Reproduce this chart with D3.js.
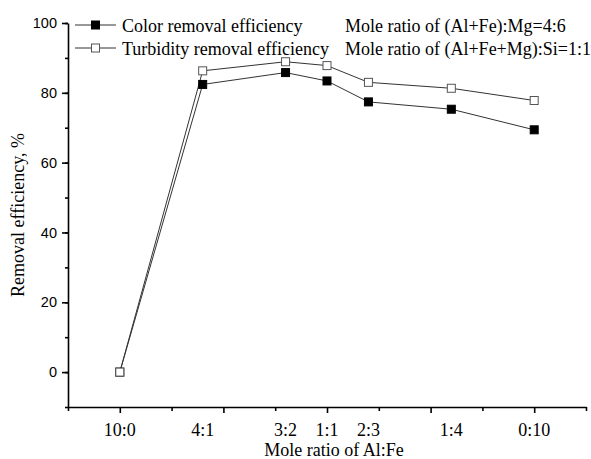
<!DOCTYPE html>
<html>
<head>
<meta charset="utf-8">
<script src="https://cdn.jsdelivr.net/npm/d3@7"></script>
<style>
  body { margin: 0; background: #fff; }
  svg { display: block; }
</style>
</head>
<body>
<div id="chart"></div>
<script>
// data
const ratios = ["10:0", "4:1", "3:2", "1:1", "2:3", "1:4", "0:10"];
const feFraction = [0, 0.2, 0.4, 0.5, 0.6, 0.8, 1.0];
const colorRemoval = [0, 82.4, 85.8, 83.4, 77.4, 75.3, 69.4];
const turbidityRemoval = [0, 86.3, 88.9, 87.8, 83.0, 81.3, 77.8];
const notes = ["Mole ratio of (Al+Fe):Mg=4:6", "Mole ratio of (Al+Fe+Mg):Si=1:1"];

const width = 591, height = 459;
const margin = {top: 23, right: 5, bottom: 52, left: 68};

const svg = d3.select("#chart")
  .append("svg")
    .attr("width", width)
    .attr("height", height);

const x = d3.scaleLinear()
  .domain([-0.125, 1.125])
  .range([margin.left, width - margin.right]);

const y = d3.scaleLinear()
  .domain([-10, 100])
  .range([height - margin.bottom, margin.top]);

const serif = "'Liberation Serif', 'Times New Roman', serif";
const sans = "'Liberation Sans', Arial, sans-serif";

// y axis: majors every 20, minors every 10
const yAxis = svg.append("g")
  .attr("transform", `translate(${margin.left},0)`);
yAxis.append("g")
  .call(d3.axisLeft(y).tickValues(d3.range(-10, 101, 10)).tickSize(3).tickFormat(""))
  .call(g => g.select(".domain").remove());
yAxis.append("g")
  .call(d3.axisLeft(y).tickValues(d3.range(0, 101, 20)).tickSize(6).tickSizeOuter(0).tickPadding(5))
  .call(g => g.selectAll("text").style("font-family", sans).style("font-size", "14.5px").attr("fill", "#000"));
yAxis.selectAll("path, line").attr("stroke", "#000").attr("stroke-width", 1.6);

// x axis: majors every 0.25, minors in between
const xAxis = svg.append("g")
  .attr("transform", `translate(0,${height - margin.bottom})`);
xAxis.append("g")
  .call(d3.axisBottom(x).tickValues(d3.range(-0.125, 1.13, 0.25)).tickSize(4).tickFormat(""))
  .call(g => g.select(".domain").remove());
xAxis.append("g")
  .call(d3.axisBottom(x).tickValues(d3.range(0, 1.01, 0.25)).tickSize(6).tickSizeOuter(0).tickFormat(""));
xAxis.selectAll("path, line").attr("stroke", "#000").attr("stroke-width", 1.6);

// category labels under the points
xAxis.selectAll("text.ratio")
  .data(ratios)
  .join("text")
    .attr("class", "ratio")
    .attr("x", (d, i) => x(feFraction[i]))
    .attr("y", 29)
    .attr("text-anchor", "middle")
    .style("font-family", serif)
    .style("font-size", "18px")
    .text(d => d);

// axis titles
svg.append("text")
  .attr("x", (margin.left + width - margin.right) / 2 + 7)
  .attr("y", 456)
  .attr("text-anchor", "middle")
  .style("font-family", serif)
  .style("font-size", "18px")
  .text("Mole ratio of Al:Fe");

svg.append("text")
  .attr("transform", `translate(24,${(margin.top + height - margin.bottom) / 2}) rotate(-90)`)
  .attr("text-anchor", "middle")
  .style("font-family", serif)
  .style("font-size", "18px")
  .text("Removal efficiency, %");

// series
const series = [
  {name: "Color removal efficiency", values: colorRemoval, fill: "#000"},
  {name: "Turbidity removal efficiency", values: turbidityRemoval, fill: "#fff"}
];

const line = d3.line()
  .x(d => x(d[0]))
  .y(d => y(d[1]));

series.forEach(s => {
  const pts = feFraction.map((f, i) => [f, s.values[i]]);
  svg.append("path")
    .datum(pts)
    .attr("d", line)
    .attr("fill", "none")
    .attr("stroke", "#333")
    .attr("stroke-width", 1);
});

const ms = 8;
series.forEach(s => {
  svg.append("g").selectAll("rect")
    .data(feFraction.map((f, i) => [f, s.values[i]]))
    .join("rect")
      .attr("x", d => x(d[0]) - ms / 2)
      .attr("y", d => y(d[1]) - ms / 2)
      .attr("width", ms)
      .attr("height", ms)
      .attr("fill", s.fill)
      .attr("stroke", s.fill === "#000" ? "#000" : "#555")
      .attr("stroke-width", 1);
});

// legend
const legend = svg.append("g");
series.forEach((s, i) => {
  const ly = 25 + i * 23;
  legend.append("line")
    .attr("x1", 75).attr("x2", 116)
    .attr("y1", ly).attr("y2", ly)
    .attr("stroke", "#333");
  legend.append("rect")
    .attr("x", 95.5 - ms / 2).attr("y", ly - ms / 2)
    .attr("width", ms).attr("height", ms)
    .attr("fill", s.fill)
    .attr("stroke", s.fill === "#000" ? "#000" : "#555");
  legend.append("text")
    .attr("x", 122).attr("y", ly + 7)
    .style("font-family", serif)
    .style("font-size", "18px")
    .text(s.name);
});

// conditions
svg.selectAll("text.note")
  .data(notes)
  .join("text")
    .attr("class", "note")
    .attr("x", 345)
    .attr("y", (d, i) => 32 + i * 23)
    .style("font-family", serif)
    .style("font-size", "18px")
    .text(d => d);
</script>
</body>
</html>
